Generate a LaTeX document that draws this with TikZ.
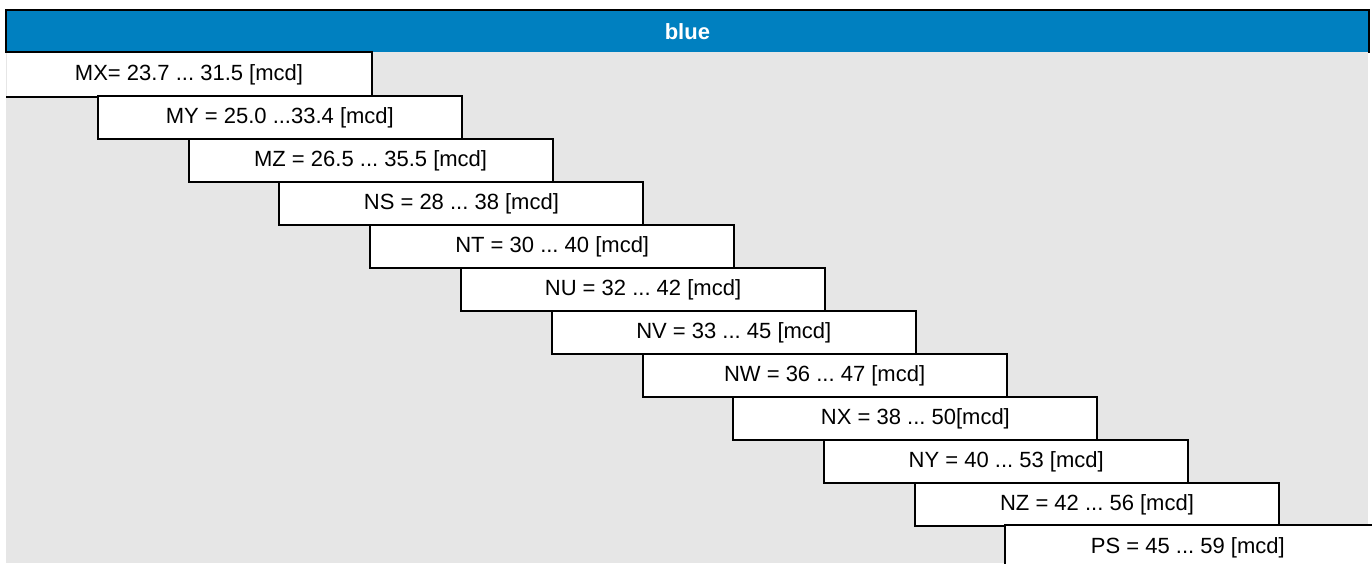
\documentclass[tikz,border=0pt]{standalone}
\usepackage{fontspec}
\setmainfont{Liberation Sans}
\definecolor{hdrblue}{RGB}{0,128,192}
\definecolor{bggrey}{RGB}{230,230,230}
\frenchspacing
\begin{document}
\begin{tikzpicture}[x=0.5pt,y=-0.5pt,
  box/.style={rectangle, fill=white, draw=black, line width=1pt,
    minimum width=182pt, minimum height=21.5pt, inner sep=0pt,
    anchor=north west, font=\fontsize{11}{13}\selectfont},
  edge/.style={draw=black, line width=1pt}]
\useasboundingbox (0,0) rectangle (1372,563);
\clip (0,0) rectangle (1372,563);
\fill[bggrey] (6,52) rectangle (1368,563);
\node[fill=hdrblue, minimum width=681pt, minimum height=21pt, inner sep=0pt,
  anchor=north west, text=white, font=\bfseries\fontsize{11}{13}\selectfont]
  (header) at (6,10) {blue};
\draw[edge] (header.south west) -- (header.north west) -- (header.north east) -- (header.south east);
\node[box, draw=none] (mx) at (6,52) {MX= 23.7 ... 31.5 [mcd]};
\draw[edge] (mx.north west) -- (mx.north east) -- (mx.south east) -- (mx.south west);
\foreach \i/\n/\t in {1/my/{MY = 25.0 ...33.4 [mcd]},
                      2/mz/{MZ = 26.5 ... 35.5 [mcd]},
                      3/ns/{NS = 28 ... 38 [mcd]},
                      4/nt/{NT = 30 ... 40 [mcd]},
                      5/nu/{NU = 32 ... 42 [mcd]},
                      6/nv/{NV = 33 ... 45 [mcd]},
                      7/nw/{NW = 36 ... 47 [mcd]},
                      8/nx/{NX = 38 ... 50[mcd]},
                      9/ny/{NY = 40 ... 53 [mcd]},
                      10/nz/{NZ = 42 ... 56 [mcd]}}
  \node[box] (\n) at ({6+90.8*\i},{52+43*\i}) {\t};
\fill[white] (1004.8,525) rectangle (1380,570);
\node[box, draw=none, fill=none] (ps) at (1004.8,525) {PS = 45 ... 59 [mcd]};
\coordinate (psend) at (1380,525);
\draw[edge] (ps.south west) -- (ps.north west) -- (psend);
\end{tikzpicture}
\end{document}
